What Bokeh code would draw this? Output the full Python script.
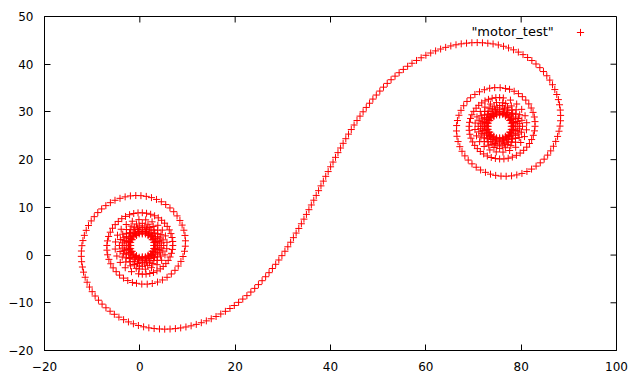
from bokeh.plotting import figure
from bokeh.models import FixedTicker, Label, Legend, LegendItem, ColumnDataSource
from bokeh.embed import file_html
from bokeh.resources import INLINE

series_name = '"motor_test"'
x_ticks = [-20, 0, 20, 40, 60, 80, 100]
y_ticks = [-20, -10, 0, 10, 20, 30, 40, 50]
x_lo, x_hi = -20, 100
y_lo, y_hi = -20, 50

# S-shaped arm, from the middle towards the upper-right coil
right_arm_x = [
    38.00, 38.50, 39.00, 39.51, 40.02, 40.53, 41.05, 41.57, 42.11, 42.65,
    43.21, 43.78, 44.36, 44.95, 45.56, 46.19, 46.84, 47.50, 48.19, 48.89,
    49.61, 50.35, 51.12, 51.90, 52.71, 53.54, 54.40, 55.28, 56.18, 57.10,
    58.05, 59.02, 60.01, 61.02, 62.05, 63.10, 64.16, 65.24, 66.33, 67.43,
    68.54, 69.66, 70.78, 71.88, 73.00, 74.11, 75.21, 76.30, 77.35, 78.39,
    79.41, 80.39, 81.35, 82.24, 83.11, 83.92, 84.68, 85.38, 86.00, 86.57,
    87.06, 87.47, 87.81, 88.05, 88.21, 88.28, 88.26, 88.15, 87.94, 87.64,
    87.25, 86.77, 86.20, 85.56, 84.82, 84.01, 83.13, 82.18, 81.21, 80.16,
    79.08, 77.98, 76.85, 75.77, 74.65, 73.56, 72.51, 71.49, 70.57, 69.68,
    68.89, 68.19, 67.59, 67.13, 66.76, 66.53, 66.43, 66.46, 66.63, 66.94,
    67.38, 67.94, 68.63, 69.39, 70.29, 71.26, 72.29, 73.39, 74.45, 75.59,
    76.70]
right_arm_y = [
    14.50, 15.50, 16.50, 17.50, 18.50, 19.49, 20.48, 21.47, 22.44, 23.42,
    24.39, 25.35, 26.31, 27.26, 28.20, 29.12, 30.03, 30.94, 31.82, 32.69,
    33.54, 34.37, 35.19, 35.98, 36.75, 37.50, 38.22, 38.91, 39.57, 40.20,
    40.79, 41.35, 41.87, 42.35, 42.79, 43.18, 43.53, 43.83, 44.07, 44.27,
    44.41, 44.50, 44.53, 44.49, 44.40, 44.25, 44.04, 43.76, 43.41, 43.01,
    42.54, 42.01, 41.41, 40.77, 40.05, 39.28, 38.46, 37.58, 36.67, 35.70,
    34.69, 33.65, 32.58, 31.50, 30.39, 29.27, 28.15, 27.03, 25.96, 24.87,
    23.82, 22.81, 21.84, 20.95, 20.10, 19.33, 18.64, 18.02, 17.52, 17.11,
    16.80, 16.60, 16.52, 16.55, 16.70, 16.96, 17.34, 17.83, 18.41, 19.12,
    19.91, 20.79, 21.75, 22.72, 23.79, 24.89, 26.01, 27.14, 28.20, 29.30,
    30.33, 31.30, 32.20, 32.96, 33.66, 34.22, 34.65, 34.96, 35.09, 35.08,
    34.92]

# S-shaped arm, from the middle towards the lower-left coil
left_arm_x = [
    37.50, 37.00, 36.49, 35.98, 35.47, 34.95, 34.43, 33.89, 33.35, 32.79,
    32.22, 31.64, 31.05, 30.44, 29.81, 29.16, 28.50, 27.81, 27.11, 26.39,
    25.65, 24.88, 24.10, 23.29, 22.46, 21.60, 20.72, 19.82, 18.90, 17.95,
    16.98, 15.99, 14.98, 13.95, 12.90, 11.84, 10.76, 9.67, 8.57, 7.46,
    6.34, 5.22, 4.12, 3.00, 1.89, 0.79, -0.30, -1.35, -2.39, -3.41,
    -4.39, -5.35, -6.24, -7.11, -7.92, -8.68, -9.38, -10.00, -10.57, -11.06,
    -11.47, -11.81, -12.05, -12.21, -12.28, -12.26, -12.15, -11.94, -11.64, -11.25,
    -10.77, -10.20, -9.56, -8.82, -8.01, -7.13, -6.18, -5.21, -4.16, -3.08,
    -1.98, -0.85, 0.23, 1.35, 2.44, 3.49, 4.51, 5.43, 6.32, 7.11,
    7.81, 8.41, 8.87, 9.24, 9.47, 9.57, 9.54, 9.37, 9.06, 8.62,
    8.06, 7.37, 6.61, 5.71, 4.74, 3.71, 2.61, 1.55, 0.41, -0.70]
left_arm_y = [
    13.50, 12.50, 11.50, 10.50, 9.51, 8.52, 7.53, 6.56, 5.58, 4.61,
    3.65, 2.69, 1.74, 0.80, -0.12, -1.03, -1.94, -2.82, -3.69, -4.54,
    -5.37, -6.19, -6.98, -7.75, -8.50, -9.22, -9.91, -10.57, -11.20, -11.79,
    -12.35, -12.87, -13.35, -13.79, -14.18, -14.53, -14.83, -15.07, -15.27, -15.41,
    -15.50, -15.53, -15.49, -15.40, -15.25, -15.04, -14.76, -14.41, -14.01, -13.54,
    -13.01, -12.41, -11.77, -11.05, -10.28, -9.46, -8.58, -7.67, -6.70, -5.69,
    -4.65, -3.58, -2.50, -1.39, -0.27, 0.85, 1.97, 3.04, 4.13, 5.18,
    6.19, 7.16, 8.05, 8.90, 9.67, 10.36, 10.98, 11.48, 11.89, 12.20,
    12.40, 12.48, 12.45, 12.30, 12.04, 11.66, 11.17, 10.59, 9.88, 9.09,
    8.21, 7.25, 6.28, 5.21, 4.11, 2.99, 1.86, 0.80, -0.30, -1.33,
    -2.30, -3.20, -3.96, -4.66, -5.22, -5.65, -5.96, -6.09, -6.08, -5.92]

# dense coil around (75.5, 27)
right_coil_x = [
    77.56, 78.53, 79.43, 80.25, 80.97, 81.60, 82.10, 82.49, 82.76, 82.90, 82.91, 82.79,
    82.55, 82.20, 81.73, 81.17, 80.52, 79.79, 79.00, 78.15, 77.28, 76.38, 75.48, 74.59,
    73.73, 72.90, 72.13, 71.43, 70.80, 70.26, 69.82, 69.47, 69.23, 69.10, 69.08, 69.17,
    69.37, 69.66, 70.05, 70.54, 71.10, 71.72, 72.41, 73.14, 73.91, 74.69, 75.48, 76.26,
    77.75, 79.06, 80.11, 80.82, 81.16, 81.11, 80.69, 79.91, 78.85, 77.58, 76.19, 74.77,
    73.43, 72.23, 71.28, 70.63, 70.31, 70.35, 70.73, 71.43, 72.39, 73.55, 74.83, 76.13,
    76.76, 77.94, 78.94, 79.69, 80.15, 80.28, 80.09, 79.59, 78.82, 77.83, 76.69, 75.48,
    74.29, 73.19, 72.26, 71.55, 71.12, 70.99, 71.17, 71.63, 72.36, 73.28, 74.35, 75.48,
    76.05, 77.13, 78.10, 78.88, 79.42, 79.69, 79.67, 79.37, 78.81, 78.02, 77.07, 76.02,
    74.94, 73.91, 73.00, 72.26, 71.74, 71.49, 71.51, 71.79, 72.33, 73.07, 73.97, 74.97,
    76.49, 77.42, 78.22, 78.82, 79.20, 79.31, 79.17, 78.78, 78.16, 77.37, 76.45, 75.48,
    74.51, 73.62, 72.86, 72.28, 71.92, 71.81, 71.95, 72.33, 72.92, 73.67, 74.55, 75.48,
    76.40, 77.99, 78.89, 78.87, 77.95, 76.38, 74.59, 73.06, 72.20, 72.22, 73.11, 74.62,
    77.13, 78.33, 78.75, 78.30, 77.10, 75.48, 73.88, 72.72, 72.31, 72.75, 73.91, 75.48,
    76.28, 77.67, 78.45, 78.44, 77.64, 76.27, 74.70, 73.36, 72.59, 72.61, 73.39, 74.72,
    76.94, 78.00, 78.38, 77.98, 76.92, 75.48, 74.05, 73.02, 72.65, 73.04, 74.08, 75.48,
    76.20, 77.44, 78.15, 78.14, 77.42, 76.19, 74.78, 73.56, 72.87, 72.88, 73.59, 74.79,
    76.81, 77.77, 78.11, 77.75, 76.79, 75.48, 74.18, 73.24, 72.90, 73.25, 74.20, 75.48,
    76.14, 77.28, 77.92, 77.92, 77.26, 76.13, 74.83, 73.72, 73.08, 73.09, 73.74, 74.84,
    76.70, 77.59, 77.91, 77.58, 76.69, 75.48, 74.28, 73.41, 73.09, 73.42, 74.29, 75.48]
right_coil_y = [
    34.74, 34.34, 33.83, 33.20, 32.48, 31.68, 30.82, 29.90, 28.94, 27.97, 26.99, 26.03,
    25.10, 24.21, 23.38, 22.62, 21.95, 21.38, 20.90, 20.54, 20.29, 20.15, 20.14, 20.24,
    20.45, 20.77, 21.20, 21.71, 22.31, 22.99, 23.72, 24.50, 25.32, 26.15, 26.99, 27.82,
    28.63, 29.40, 30.12, 30.79, 31.38, 31.89, 32.31, 32.64, 32.86, 32.99, 33.01, 32.93,
    32.48, 31.66, 30.54, 29.20, 27.74, 26.25, 24.83, 23.59, 22.59, 21.91, 21.58, 21.62,
    22.03, 22.76, 23.77, 24.98, 26.31, 27.67, 28.96, 30.10, 31.01, 31.65, 31.95, 31.92,
    31.78, 31.26, 30.45, 29.42, 28.24, 26.99, 25.75, 24.62, 23.65, 22.93, 22.49, 22.35,
    22.54, 23.02, 23.77, 24.72, 25.82, 26.99, 28.15, 29.21, 30.11, 30.80, 31.21, 31.34,
    31.29, 30.98, 30.40, 29.60, 28.62, 27.54, 26.44, 25.38, 24.44, 23.68, 23.15, 22.89,
    22.91, 23.20, 23.75, 24.52, 25.44, 26.46, 27.51, 28.52, 29.41, 30.13, 30.63, 30.87,
    30.76, 30.36, 29.73, 28.92, 27.99, 26.99, 26.00, 25.09, 24.31, 23.72, 23.35, 23.24,
    23.38, 23.77, 24.37, 25.14, 26.04, 26.99, 27.94, 28.81, 29.55, 30.12, 30.47, 30.58,
    30.44, 29.50, 27.90, 26.08, 24.52, 23.64, 23.66, 24.57, 26.11, 27.86, 29.36, 30.21,
    29.85, 28.64, 26.99, 25.36, 24.19, 23.77, 24.22, 25.40, 26.99, 28.57, 29.70, 30.10,
    29.99, 29.18, 27.79, 26.20, 24.84, 24.06, 24.07, 24.87, 26.22, 27.76, 29.08, 29.84,
    29.52, 28.45, 26.99, 25.55, 24.50, 24.13, 24.52, 25.57, 26.99, 28.40, 29.42, 29.78,
    29.68, 28.95, 27.71, 26.28, 25.05, 24.35, 24.36, 25.07, 26.29, 27.69, 28.88, 29.57,
    29.29, 28.31, 26.99, 25.68, 24.72, 24.38, 24.74, 25.70, 26.99, 28.27, 29.21, 29.54,
    29.45, 28.79, 27.65, 26.34, 25.21, 24.57, 24.58, 25.23, 26.35, 27.63, 28.73, 29.36,
    29.11, 28.21, 26.99, 25.78, 24.90, 24.58, 24.91, 25.79, 26.99, 28.18, 29.04, 29.35]

# dense coil around (0.5, 2)
left_coil_x = [
    -1.56, -2.53, -3.43, -4.25, -4.97, -5.60, -6.10, -6.49, -6.76, -6.90, -6.91, -6.79,
    -6.55, -6.20, -5.73, -5.17, -4.52, -3.79, -3.00, -2.15, -1.28, -0.38, 0.52, 1.41,
    2.27, 3.10, 3.87, 4.57, 5.20, 5.74, 6.18, 6.53, 6.77, 6.90, 6.92, 6.83,
    6.63, 6.34, 5.95, 5.46, 4.90, 4.28, 3.59, 2.86, 2.09, 1.31, 0.52, -0.26,
    -1.75, -3.06, -4.11, -4.82, -5.16, -5.11, -4.69, -3.91, -2.85, -1.58, -0.19, 1.23,
    2.57, 3.77, 4.72, 5.37, 5.69, 5.65, 5.27, 4.57, 3.61, 2.45, 1.17, -0.13,
    -0.76, -1.94, -2.94, -3.69, -4.15, -4.28, -4.09, -3.59, -2.82, -1.83, -0.69, 0.52,
    1.71, 2.81, 3.74, 4.45, 4.88, 5.01, 4.83, 4.37, 3.64, 2.72, 1.65, 0.52,
    -0.05, -1.13, -2.10, -2.88, -3.42, -3.69, -3.67, -3.37, -2.81, -2.02, -1.07, -0.02,
    1.06, 2.09, 3.00, 3.74, 4.26, 4.51, 4.49, 4.21, 3.67, 2.93, 2.03, 1.03,
    -0.49, -1.42, -2.22, -2.82, -3.20, -3.31, -3.17, -2.78, -2.16, -1.37, -0.45, 0.52,
    1.49, 2.38, 3.14, 3.72, 4.08, 4.19, 4.05, 3.67, 3.08, 2.33, 1.45, 0.52,
    -0.40, -1.99, -2.89, -2.87, -1.95, -0.38, 1.41, 2.94, 3.80, 3.78, 2.89, 1.38,
    -1.13, -2.33, -2.75, -2.30, -1.10, 0.52, 2.12, 3.28, 3.69, 3.25, 2.09, 0.52,
    -0.28, -1.67, -2.45, -2.44, -1.64, -0.27, 1.30, 2.64, 3.41, 3.39, 2.61, 1.28,
    -0.94, -2.00, -2.38, -1.98, -0.92, 0.52, 1.95, 2.98, 3.35, 2.96, 1.92, 0.52,
    -0.20, -1.44, -2.15, -2.14, -1.42, -0.19, 1.22, 2.44, 3.13, 3.12, 2.41, 1.21,
    -0.81, -1.77, -2.11, -1.75, -0.79, 0.52, 1.82, 2.76, 3.10, 2.75, 1.80, 0.52,
    -0.14, -1.28, -1.92, -1.92, -1.26, -0.13, 1.17, 2.28, 2.92, 2.91, 2.26, 1.16,
    -0.70, -1.59, -1.91, -1.58, -0.69, 0.52, 1.72, 2.59, 2.91, 2.58, 1.71, 0.52]
left_coil_y = [
    -5.74, -5.34, -4.83, -4.20, -3.48, -2.68, -1.82, -0.90, 0.06, 1.03, 2.01, 2.97,
    3.90, 4.79, 5.62, 6.38, 7.05, 7.62, 8.10, 8.46, 8.71, 8.85, 8.86, 8.76,
    8.55, 8.23, 7.80, 7.29, 6.69, 6.01, 5.28, 4.50, 3.68, 2.85, 2.01, 1.18,
    0.37, -0.40, -1.12, -1.79, -2.38, -2.89, -3.31, -3.64, -3.86, -3.99, -4.01, -3.93,
    -3.48, -2.66, -1.54, -0.20, 1.26, 2.75, 4.17, 5.41, 6.41, 7.09, 7.42, 7.38,
    6.97, 6.24, 5.23, 4.02, 2.69, 1.33, 0.04, -1.10, -2.01, -2.65, -2.95, -2.92,
    -2.78, -2.26, -1.45, -0.42, 0.76, 2.01, 3.25, 4.38, 5.35, 6.07, 6.51, 6.65,
    6.46, 5.98, 5.23, 4.28, 3.18, 2.01, 0.85, -0.21, -1.11, -1.80, -2.21, -2.34,
    -2.29, -1.98, -1.40, -0.60, 0.38, 1.46, 2.56, 3.62, 4.56, 5.32, 5.85, 6.11,
    6.09, 5.80, 5.25, 4.48, 3.56, 2.54, 1.49, 0.48, -0.41, -1.13, -1.63, -1.87,
    -1.76, -1.36, -0.73, 0.08, 1.01, 2.01, 3.00, 3.91, 4.69, 5.28, 5.65, 5.76,
    5.62, 5.23, 4.63, 3.86, 2.96, 2.01, 1.06, 0.19, -0.55, -1.12, -1.47, -1.58,
    -1.44, -0.50, 1.10, 2.92, 4.48, 5.36, 5.34, 4.43, 2.89, 1.14, -0.36, -1.21,
    -0.85, 0.36, 2.01, 3.64, 4.81, 5.23, 4.78, 3.60, 2.01, 0.43, -0.70, -1.10,
    -0.99, -0.18, 1.21, 2.80, 4.16, 4.94, 4.93, 4.13, 2.78, 1.24, -0.08, -0.84,
    -0.52, 0.55, 2.01, 3.45, 4.50, 4.87, 4.48, 3.43, 2.01, 0.60, -0.42, -0.78,
    -0.68, 0.05, 1.29, 2.72, 3.95, 4.65, 4.64, 3.93, 2.71, 1.31, 0.12, -0.57,
    -0.29, 0.69, 2.01, 3.32, 4.28, 4.62, 4.26, 3.30, 2.01, 0.73, -0.21, -0.54,
    -0.45, 0.21, 1.35, 2.66, 3.79, 4.43, 4.42, 3.77, 2.65, 1.37, 0.27, -0.36,
    -0.11, 0.79, 2.01, 3.22, 4.10, 4.42, 4.09, 3.21, 2.01, 0.82, -0.04, -0.35]

xs = left_coil_x + left_arm_x[::-1] + right_arm_x + right_coil_x
ys = left_coil_y + left_arm_y[::-1] + right_arm_y + right_coil_y
src = ColumnDataSource(data=dict(x=xs, y=ys))

FONT = "DejaVu Sans"
FRAME_W, FRAME_H = 572, 334
TICK_PX = 6

p = figure(frame_width=FRAME_W, frame_height=FRAME_H, x_range=(x_lo, x_hi), y_range=(y_lo, y_hi),
           output_backend="svg", toolbar_location=None,
           min_border_left=44, min_border_right=24, min_border_top=16, min_border_bottom=34)
p.background_fill_color = "white"
p.border_fill_color = "white"
p.grid.visible = False
p.outline_line_color = "black"
p.outline_line_width = 1

# mirrored tick marks on the top and right edges of the box
dx_tick = TICK_PX * (x_hi - x_lo) / FRAME_W
dy_tick = TICK_PX * (y_hi - y_lo) / FRAME_H
p.segment(x0=x_ticks, x1=x_ticks, y0=[y_hi] * len(x_ticks), y1=[y_hi - dy_tick] * len(x_ticks),
          line_color="black", line_width=1)
p.segment(x0=[x_hi] * len(y_ticks), x1=[x_hi - dx_tick] * len(y_ticks), y0=y_ticks, y1=y_ticks,
          line_color="black", line_width=1)

r = p.scatter("x", "y", source=src, marker="cross", size=7,
              line_color="#ff0000", line_width=1)

p.xaxis.ticker = FixedTicker(ticks=x_ticks)
p.yaxis.ticker = FixedTicker(ticks=y_ticks)
for ax in p.axis:
    ax.major_tick_in = TICK_PX
    ax.major_tick_out = 0
    ax.minor_tick_in = 0
    ax.minor_tick_out = 0
    ax.axis_line_color = "black"
    ax.major_tick_line_color = "black"
    ax.major_label_text_font = FONT
    ax.major_label_text_font_size = "12px"
    ax.major_label_text_color = "black"
p.xaxis.major_label_standoff = 11
p.yaxis.major_label_standoff = 11

p.add_layout(Label(x=86.85, y=46.92, text=series_name, text_align="right",
                   text_baseline="alphabetic", text_font=FONT, text_font_size="13px",
                   text_color="black"))

legend = Legend(items=[LegendItem(label=" ", renderers=[r])], location=(527, 309),
                glyph_width=18, glyph_height=18, label_standoff=0, padding=0, margin=0,
                spacing=0, border_line_color=None, background_fill_alpha=0,
                label_text_font_size="1px", label_width=0, label_height=0)
p.add_layout(legend)

open("out.html", "w").write(file_html(p, INLINE))
